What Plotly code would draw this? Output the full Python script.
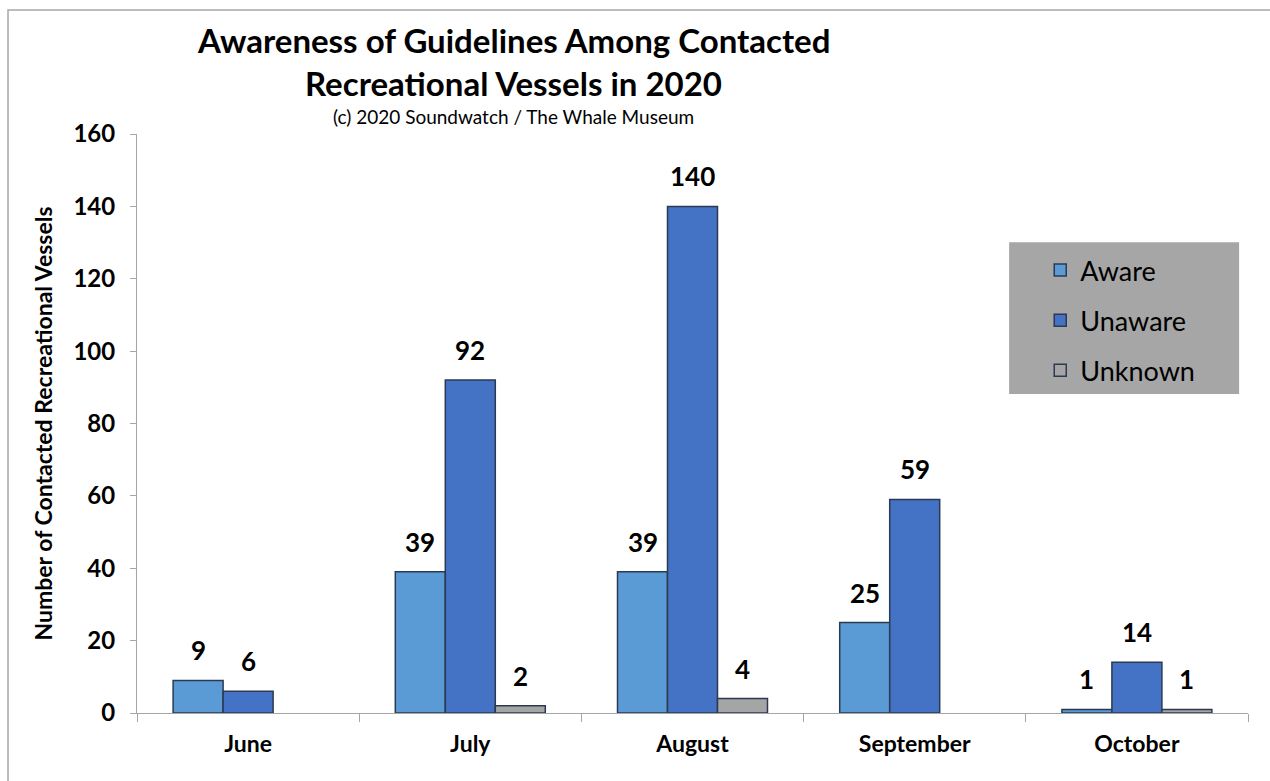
import plotly.graph_objects as go

months = ["June", "July", "August", "September", "October"]
aware = [9, 39, 39, 25, 1]
unaware = [6, 92, 140, 59, 14]
unknown = [None, 2, 4, None, 1]

series = [
    ("Aware", aware, "#5B9BD5"),
    ("Unaware", unaware, "#4472C4"),
    ("Unknown", unknown, "#A5A5A5"),
]

FONT = "Lato"
fig = go.Figure()
for name, vals, color in series:
    fig.add_trace(go.Bar(
        x=months, y=vals, name=name, legendgroup=name,
        marker=dict(color=color, line=dict(color="#2B3A52", width=1.5)),
        hoverinfo="skip",
    ))

# data labels positioned on the bars via their data values
shifts = [-50, 0, 50]
for (name, vals, color), xs in zip(series, shifts):
    for m, v in zip(months, vals):
        if v is None:
            continue
        fig.add_annotation(x=m, y=v, xref="x", yref="y", text=f"<b>{v}</b>",
                           showarrow=False, xshift=xs, yshift=30, yanchor="middle",
                           font=dict(family=FONT, size=26, color="#000000"))

fig.update_layout(
    width=1270, height=781,
    paper_bgcolor="white", plot_bgcolor="white",
    margin=dict(l=137, r=22, t=134, b=68),
    barmode="group", bargap=0.325, bargroupgap=0,
    font=dict(family=FONT, color="#000000"),
    showlegend=True,
    legend=dict(x=0.813, y=0.8066, xanchor="left", yanchor="top",
                bgcolor="rgba(0,0,0,0)", font=dict(family=FONT, size=27),
                tracegroupgap=12, itemwidth=30),
)
fig.update_xaxes(
    showline=True, linecolor="#A6A6A6", linewidth=1,
    ticks="outside", tickson="boundaries", ticklen=8, tickcolor="#A6A6A6",
    tickfont=dict(family=FONT, size=23, weight="bold"),
    ticklabelstandoff=10,
    showgrid=False,
)
fig.update_yaxes(
    range=[0, 160], dtick=20, showline=True, linecolor="#A6A6A6", linewidth=1,
    ticks="outside", ticklen=6, tickcolor="#A6A6A6",
    tickfont=dict(family=FONT, size=24, weight="bold"),
    ticklabelstandoff=10,
    showgrid=False, zeroline=False,
    title=dict(text="<b>Number of Contacted Recreational Vessels</b>",
               font=dict(family=FONT, size=23), standoff=14),
)
fig.add_shape(type="rect", xref="paper", yref="paper",
              x0=0.785, x1=0.992, y0=0.551, y1=0.813,
              fillcolor="#A6A6A6", line=dict(width=0), layer="below")
fig.add_shape(type="rect", xref="paper", yref="paper",
              x0=-0.1161, x1=1.1, y0=-0.2, y1=1.2142,
              line=dict(color="#A6A6A6", width=1.5), fillcolor="rgba(0,0,0,0)")
fig.add_annotation(text="<b>Awareness of Guidelines Among Contacted</b>",
                   xref="paper", yref="paper", x=0.339, y=1.1623, xanchor="center", yanchor="middle",
                   showarrow=False, font=dict(family=FONT, size=33))
fig.add_annotation(text="<b>Recreational Vessels in 2020</b>",
                   xref="paper", yref="paper", x=0.339, y=1.0881, xanchor="center", yanchor="middle",
                   showarrow=False, font=dict(family=FONT, size=33))
fig.add_annotation(text="(c) 2020 Soundwatch / The Whale Museum",
                   xref="paper", yref="paper", x=0.339, y=1.031, xanchor="center", yanchor="middle",
                   showarrow=False, font=dict(family=FONT, size=19))

fig.write_html("out.html", config={"displayModeBar": False},
               post_script="document.body.style.margin='0px';")
